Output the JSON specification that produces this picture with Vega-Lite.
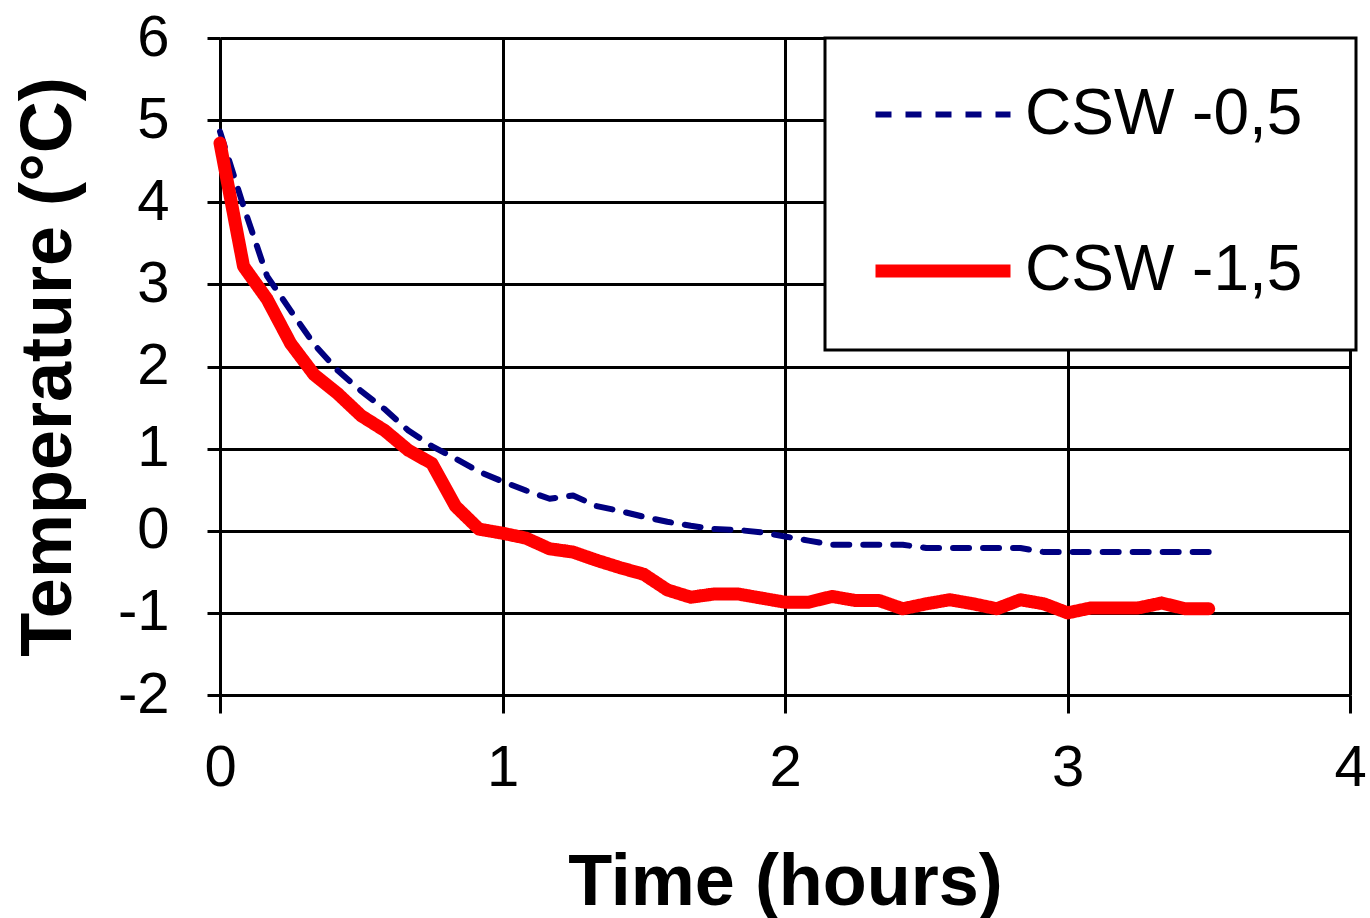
{
  "$schema": "https://vega.github.io/schema/vega-lite/v6.json",
  "width": 1130,
  "height": 657,
  "autosize": {"type": "none"},
  "padding": {"left": 220, "top": 38, "right": 20, "bottom": 223},
  "background": "white",
  "config": {"view": {"stroke": null}, "font": "Liberation Sans", "legend": {"strokeWidth": 3}},
  "datasets": {
    "temps": [
      {"t": 0, "series": "CSW -0,5", "temp": 4.86},
      {"t": 0.0833, "series": "CSW -0,5", "temp": 3.95},
      {"t": 0.1667, "series": "CSW -0,5", "temp": 3.1},
      {"t": 0.25, "series": "CSW -0,5", "temp": 2.68},
      {"t": 0.3333, "series": "CSW -0,5", "temp": 2.27},
      {"t": 0.4167, "series": "CSW -0,5", "temp": 1.95},
      {"t": 0.5, "series": "CSW -0,5", "temp": 1.7},
      {"t": 0.5833, "series": "CSW -0,5", "temp": 1.48},
      {"t": 0.6667, "series": "CSW -0,5", "temp": 1.22},
      {"t": 0.75, "series": "CSW -0,5", "temp": 1.03},
      {"t": 0.8333, "series": "CSW -0,5", "temp": 0.88},
      {"t": 0.9167, "series": "CSW -0,5", "temp": 0.72},
      {"t": 1.0, "series": "CSW -0,5", "temp": 0.6},
      {"t": 1.0833, "series": "CSW -0,5", "temp": 0.49},
      {"t": 1.1667, "series": "CSW -0,5", "temp": 0.39},
      {"t": 1.25, "series": "CSW -0,5", "temp": 0.43},
      {"t": 1.3333, "series": "CSW -0,5", "temp": 0.3},
      {"t": 1.4167, "series": "CSW -0,5", "temp": 0.24},
      {"t": 1.5, "series": "CSW -0,5", "temp": 0.17},
      {"t": 1.5833, "series": "CSW -0,5", "temp": 0.11},
      {"t": 1.6667, "series": "CSW -0,5", "temp": 0.06},
      {"t": 1.75, "series": "CSW -0,5", "temp": 0.02},
      {"t": 1.8333, "series": "CSW -0,5", "temp": 0.01},
      {"t": 1.9167, "series": "CSW -0,5", "temp": -0.02},
      {"t": 2.0, "series": "CSW -0,5", "temp": -0.07},
      {"t": 2.0833, "series": "CSW -0,5", "temp": -0.12},
      {"t": 2.1667, "series": "CSW -0,5", "temp": -0.17},
      {"t": 2.25, "series": "CSW -0,5", "temp": -0.17},
      {"t": 2.3333, "series": "CSW -0,5", "temp": -0.17},
      {"t": 2.4167, "series": "CSW -0,5", "temp": -0.17},
      {"t": 2.5, "series": "CSW -0,5", "temp": -0.21},
      {"t": 2.5833, "series": "CSW -0,5", "temp": -0.21},
      {"t": 2.6667, "series": "CSW -0,5", "temp": -0.21},
      {"t": 2.75, "series": "CSW -0,5", "temp": -0.21},
      {"t": 2.8333, "series": "CSW -0,5", "temp": -0.21},
      {"t": 2.9167, "series": "CSW -0,5", "temp": -0.26},
      {"t": 3.0, "series": "CSW -0,5", "temp": -0.26},
      {"t": 3.0833, "series": "CSW -0,5", "temp": -0.26},
      {"t": 3.1667, "series": "CSW -0,5", "temp": -0.26},
      {"t": 3.25, "series": "CSW -0,5", "temp": -0.26},
      {"t": 3.3333, "series": "CSW -0,5", "temp": -0.26},
      {"t": 3.4167, "series": "CSW -0,5", "temp": -0.26},
      {"t": 3.5, "series": "CSW -0,5", "temp": -0.26},
      {"t": 0, "series": "CSW -1,5", "temp": 4.72},
      {"t": 0.0833, "series": "CSW -1,5", "temp": 3.22},
      {"t": 0.1667, "series": "CSW -1,5", "temp": 2.82},
      {"t": 0.25, "series": "CSW -1,5", "temp": 2.28},
      {"t": 0.3333, "series": "CSW -1,5", "temp": 1.9},
      {"t": 0.4167, "series": "CSW -1,5", "temp": 1.67},
      {"t": 0.5, "series": "CSW -1,5", "temp": 1.4},
      {"t": 0.5833, "series": "CSW -1,5", "temp": 1.22},
      {"t": 0.6667, "series": "CSW -1,5", "temp": 0.98},
      {"t": 0.75, "series": "CSW -1,5", "temp": 0.82},
      {"t": 0.8333, "series": "CSW -1,5", "temp": 0.3},
      {"t": 0.9167, "series": "CSW -1,5", "temp": 0.02},
      {"t": 1.0, "series": "CSW -1,5", "temp": -0.03},
      {"t": 1.0833, "series": "CSW -1,5", "temp": -0.09},
      {"t": 1.1667, "series": "CSW -1,5", "temp": -0.22},
      {"t": 1.25, "series": "CSW -1,5", "temp": -0.26},
      {"t": 1.3333, "series": "CSW -1,5", "temp": -0.36},
      {"t": 1.4167, "series": "CSW -1,5", "temp": -0.45},
      {"t": 1.5, "series": "CSW -1,5", "temp": -0.53},
      {"t": 1.5833, "series": "CSW -1,5", "temp": -0.72},
      {"t": 1.6667, "series": "CSW -1,5", "temp": -0.81},
      {"t": 1.75, "series": "CSW -1,5", "temp": -0.77},
      {"t": 1.8333, "series": "CSW -1,5", "temp": -0.77},
      {"t": 1.9167, "series": "CSW -1,5", "temp": -0.82},
      {"t": 2.0, "series": "CSW -1,5", "temp": -0.87},
      {"t": 2.0833, "series": "CSW -1,5", "temp": -0.87},
      {"t": 2.1667, "series": "CSW -1,5", "temp": -0.8},
      {"t": 2.25, "series": "CSW -1,5", "temp": -0.85},
      {"t": 2.3333, "series": "CSW -1,5", "temp": -0.85},
      {"t": 2.4167, "series": "CSW -1,5", "temp": -0.95},
      {"t": 2.5, "series": "CSW -1,5", "temp": -0.89},
      {"t": 2.5833, "series": "CSW -1,5", "temp": -0.84},
      {"t": 2.6667, "series": "CSW -1,5", "temp": -0.89},
      {"t": 2.75, "series": "CSW -1,5", "temp": -0.95},
      {"t": 2.8333, "series": "CSW -1,5", "temp": -0.84},
      {"t": 2.9167, "series": "CSW -1,5", "temp": -0.89},
      {"t": 3.0, "series": "CSW -1,5", "temp": -1.0},
      {"t": 3.0833, "series": "CSW -1,5", "temp": -0.94},
      {"t": 3.1667, "series": "CSW -1,5", "temp": -0.94},
      {"t": 3.25, "series": "CSW -1,5", "temp": -0.94},
      {"t": 3.3333, "series": "CSW -1,5", "temp": -0.88},
      {"t": 3.4167, "series": "CSW -1,5", "temp": -0.95},
      {"t": 3.5, "series": "CSW -1,5", "temp": -0.95}
    ]
  },
  "data": {"name": "temps"},
  "mark": {"type": "line", "strokeCap": "round", "strokeJoin": "round"},
  "encoding": {
    "x": {
      "field": "t",
      "type": "quantitative",
      "scale": {"domain": [0, 4], "nice": false, "zero": false},
      "axis": {
        "values": [0, 1, 2, 3, 4],
        "title": "Time (hours)",
        "grid": true,
        "gridColor": "black",
        "gridWidth": 3,
        "gridOpacity": 1,
        "domainColor": "black",
        "domainWidth": 3,
        "tickColor": "black",
        "tickWidth": 3,
        "tickSize": 18,
        "labelFontSize": 58,
        "labelColor": "black",
        "labelPadding": 26,
        "labelFlush": false,
        "titleFontSize": 72,
        "titleFontWeight": "bold",
        "titleColor": "black",
        "titlePadding": 50
      }
    },
    "y": {
      "field": "temp",
      "type": "quantitative",
      "scale": {"domain": [-2, 6], "nice": false, "zero": false},
      "axis": {
        "values": [-2, -1, 0, 1, 2, 3, 4, 5, 6],
        "labelExpr": "toString(datum.value)",
        "title": "Temperature (°C)",
        "grid": true,
        "gridColor": "black",
        "gridWidth": 3,
        "gridOpacity": 1,
        "domainColor": "black",
        "domainWidth": 3,
        "tickColor": "black",
        "tickWidth": 3,
        "tickSize": 13,
        "labelFontSize": 58,
        "labelColor": "black",
        "labelPadding": 38,
        "labelFlush": false,
        "titleFontSize": 72,
        "titleFontWeight": "bold",
        "titleColor": "black",
        "titlePadding": 32
      }
    },
    "color": {
      "field": "series",
      "type": "nominal",
      "scale": {"domain": ["CSW -0,5", "CSW -1,5"], "range": ["#000080", "#ff0000"]},
      "legend": {
        "orient": "none",
        "legendX": 605,
        "legendY": 0,
        "title": " ",
        "titleOrient": "bottom",
        "titleFontSize": 10,
        "titlePadding": 31,
        "symbolType": "stroke",
        "symbolSize": 18225,
        "symbolOffset": 38,
        "labelFontSize": 64,
        "labelColor": "black",
        "labelOffset": 8,
        "labelLimit": 600,
        "labelExpr": "datum.label + '\u2800'",
        "rowPadding": 50,
        "padding": 6,
        "strokeColor": "black",
        "fillColor": "white"
      }
    },
    "strokeDash": {
      "field": "series",
      "type": "nominal",
      "scale": {"domain": ["CSW -0,5", "CSW -1,5"], "range": [[16, 14], [1, 0]]}
    },
    "strokeWidth": {
      "field": "series",
      "type": "nominal",
      "scale": {"domain": ["CSW -0,5", "CSW -1,5"], "range": [6, 13]}
    }
  }
}
